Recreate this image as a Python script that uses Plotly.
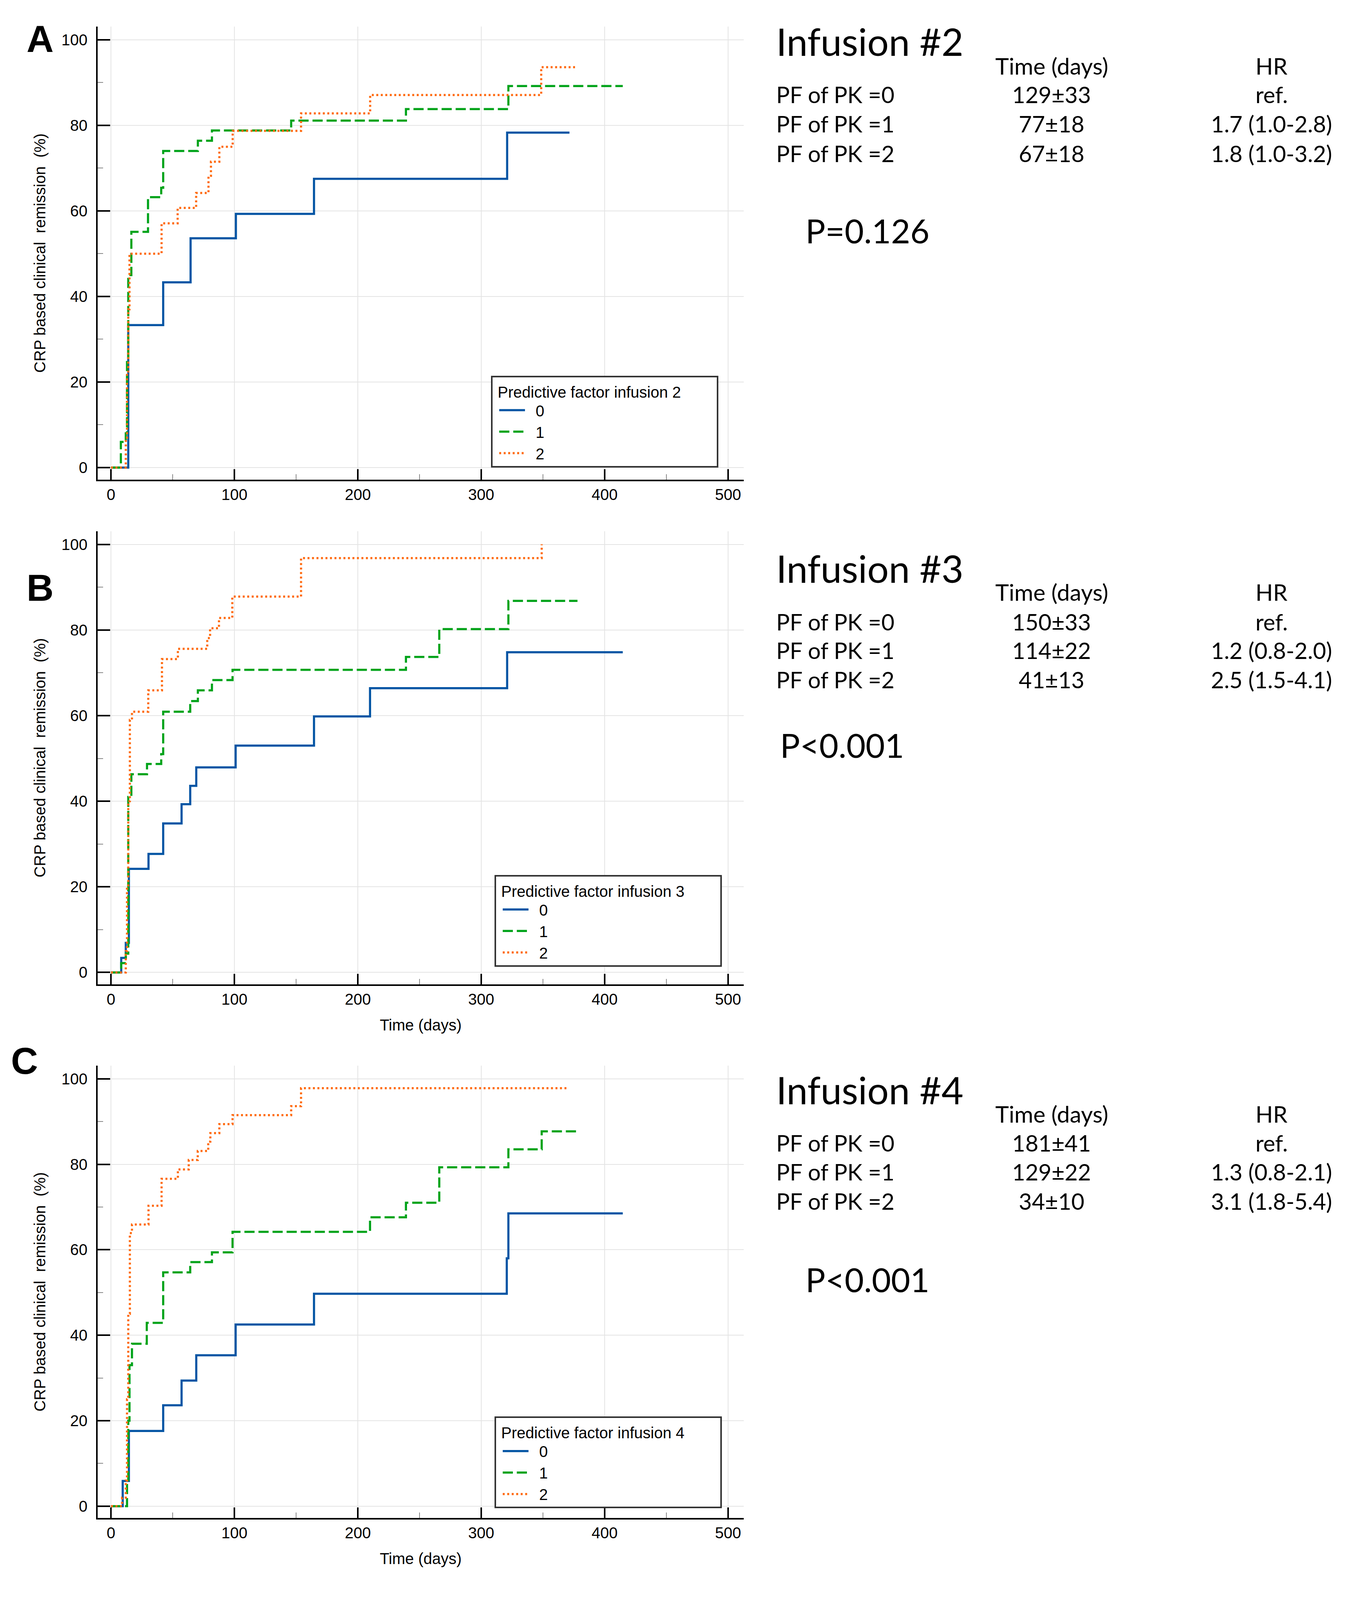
import plotly.graph_objects as go

W, H = 3474, 4281

# ---------------- data ----------------
# Panel A: Infusion #2
a0_t = [0, 14, 42.3, 64.5, 101.2, 164.5, 321, 371.5]
a0_v = [0, 33.3, 43.3, 53.6, 59.3, 67.5, 78.3, 78.3]
a1_t = [0, 8, 12, 13, 14, 16.5, 30, 40.7, 42.3, 70.4, 81.8, 146, 239, 322, 414.7]
a1_v = [0, 6.0, 8.0, 25, 45, 55.1, 63.2, 65.4, 74.0, 76.4, 78.8, 81.1, 83.8, 89.2, 89.2]
a2_t = [0, 12, 13, 14, 15, 41, 54, 69, 79, 81, 87.8, 98.6, 154, 210, 348.6, 376]
a2_v = [0, 7, 22, 37, 50.0, 57.1, 60.7, 64.2, 68.2, 71.5, 75.0, 78.7, 82.8, 87.1, 93.6, 93.6]

# Panel B: Infusion #3
b0_t = [0, 8.3, 12, 14.5, 30.4, 42.3, 57.2, 64.2, 69.1, 101, 164.5, 209.9, 321, 414.7]
b0_v = [0, 3.4, 6.9, 24.2, 27.7, 34.8, 39.3, 43.6, 47.9, 53.0, 59.8, 66.4, 74.8, 74.8]
b1_t = [0, 8.3, 12, 14, 16.5, 29.2, 40.7, 42.3, 64.2, 70.4, 81.8, 98.5, 239, 266, 322, 378]
b1_v = [0, 2.2, 4.4, 41, 46.3, 48.7, 51.0, 60.9, 63.4, 65.9, 68.3, 70.7, 73.7, 80.2, 86.8, 86.8]
b2_t = [0, 12, 13, 14, 15.3, 17, 30.2, 41.3, 54.2, 78, 80.3, 87.5, 98.3, 154, 349]
b2_v = [0, 5, 20, 40, 59, 60.9, 65.9, 73.2, 75.6, 78.1, 80.4, 82.8, 87.8, 96.8, 100]

# Panel C: Infusion #4
c0_t = [0, 9.5, 14.5, 42.3, 57.2, 69.1, 101, 164.5, 320.7, 322, 414.7]
c0_v = [0, 5.9, 17.6, 23.6, 29.4, 35.3, 42.5, 49.7, 58.0, 68.5, 68.5]
c1_t = [0, 13, 14, 15, 17, 29, 42.3, 64.2, 81.8, 98.5, 209.9, 239, 266, 322, 349, 378]
c1_v = [0, 5.4, 20, 33, 38.0, 42.9, 54.7, 57.1, 59.4, 64.2, 67.6, 71.0, 79.3, 83.5, 87.7, 87.7]
c2_t = [0, 9, 12, 13, 14, 15.3, 17, 30.4, 41, 54.2, 63, 70.3, 78.8, 80.5, 87.8, 98.5, 146, 154, 371]
c2_v = [0, 2, 6, 25, 45, 63.9, 65.9, 70.3, 76.6, 78.8, 81.0, 83.1, 85.3, 87.3, 89.4, 91.5, 93.6, 97.8, 97.8]

group_names = ["0", "1", "2"]
x_ticks = [0, 100, 200, 300, 400, 500]
y_ticks = [0, 20, 40, 60, 80, 100]

row_labels = ["PF of PK =0", "PF of PK =1", "PF of PK =2"]
a_time = ["129±33", "77±18", "67±18"]
a_hr = ["ref.", "1.7 (1.0-2.8)", "1.8 (1.0-3.2)"]
a_p = "P=0.126"
b_time = ["150±33", "114±22", "41±13"]
b_hr = ["ref.", "1.2 (0.8-2.0)", "2.5 (1.5-4.1)"]
b_p = "P<0.001"
c_time = ["181±41", "129±22", "34±10"]
c_hr = ["ref.", "1.3 (0.8-2.1)", "3.1 (1.8-5.4)"]
c_p = "P<0.001"

# ---------------- styling ----------------
COLORS = ["#0455a4", "#00a31a", "#ff6a0e"]
DASHES = ["solid", "26px,10px", "5px,6.5px"]
LW = 5.5
AX_FONT = dict(family="Liberation Sans, Arial", size=40, color="black")
TXT_FONT = "Lato"
NB = "\u00a0"


def px(x):
    return x / W


def py(y):
    return 1 - y / H


panels = [
    dict(series=[(a0_t, a0_v), (a1_t, a1_v), (a2_t, a2_v)], ydom=(71, 1283),
         legend_xy=(1257, 1005), legtitle="Predictive factor infusion 2",
         letter="A", letter_xy=(102, 104), xtitle=False,
         title="Infusion #2", title_y=110, head_y=176, rows_y=[252, 331, 410],
         time=a_time, hr=a_hr, p=a_p, p_xy=(2060, 617)),
    dict(series=[(b0_t, b0_v), (b1_t, b1_v), (b2_t, b2_v)], ydom=(1421, 2634),
         legend_xy=(1266, 2341), legtitle="Predictive factor infusion 3",
         letter="B", letter_xy=(102, 1572), xtitle=True,
         title="Infusion #3", title_y=1520, head_y=1584, rows_y=[1663, 1740, 1818],
         time=b_time, hr=b_hr, p=b_p, p_xy=(1995, 1993)),
    dict(series=[(c0_t, c0_v), (c1_t, c1_v), (c2_t, c2_v)], ydom=(2851, 4062),
         legend_xy=(1266, 3790), legtitle="Predictive factor infusion 4",
         letter="C", letter_xy=(62, 2838), xtitle=True,
         title="Infusion #4", title_y=2915, head_y=2980, rows_y=[3058, 3135, 3213],
         time=c_time, hr=c_hr, p=c_p, p_xy=(2060, 3423)),
]

fig = go.Figure()
annotations = []
layout = dict(
    width=W, height=H, margin=dict(l=0, r=0, t=0, b=0),
    paper_bgcolor="white", plot_bgcolor="white", showlegend=True,
)

for i, pn in enumerate(panels):
    k = "" if i == 0 else str(i + 1)
    legname = "legend" + k
    for j, (t, v) in enumerate(pn["series"]):
        fig.add_trace(go.Scatter(
            x=t, y=v, mode="lines", line_shape="hv", name=NB + NB + group_names[j],
            line=dict(color=COLORS[j], width=LW, dash=DASHES[j]),
            xaxis="x" + k, yaxis="y" + k, legend=legname,
        ))
    y0, y1 = pn["ydom"]
    layout["xaxis" + k] = dict(
        domain=[px(250), px(1904)], range=[-10.8, 512.7], anchor="y" + k,
        tickvals=x_ticks, showgrid=True, gridcolor="#e4e4e4", gridwidth=2,
        showline=True, linecolor="black", linewidth=4, zeroline=False,
        ticks="inside", ticklen=27, tickwidth=4, tickcolor="black",
        minor=dict(ticks="inside", ticklen=14, tickwidth=2, tickcolor="#888888",
                   tick0=0, dtick=50, showgrid=False),
        tickfont=AX_FONT,
        title=dict(text="Time (days)" if pn["xtitle"] else "", font=AX_FONT, standoff=32),
    )
    layout["yaxis" + k] = dict(
        domain=[py(y1), py(y0)], range=[-2.8, 103.1], anchor="x" + k,
        tickvals=y_ticks, showgrid=True, gridcolor="#e4e4e4", gridwidth=2,
        showline=True, linecolor="black", linewidth=4, zeroline=False,
        ticks="inside", ticklen=32, tickwidth=4, tickcolor="black",
        minor=dict(ticks="inside", ticklen=14, tickwidth=2, tickcolor="#888888",
                   tick0=0, dtick=10, showgrid=False),
        tickfont=AX_FONT, ticklabelstandoff=14,
        title=dict(text="CRP based clinical" + NB + NB + "remission" + NB + NB + "(%)",
                   font=AX_FONT, standoff=29),
    )
    lx, ly = pn["legend_xy"]
    layout[legname] = dict(
        x=px(lx), y=py(ly), xanchor="left", yanchor="top",
        bordercolor="#333333", borderwidth=4, bgcolor="white",
        font=AX_FONT,
        title=dict(text=NB + pn["legtitle"] + NB * 8, font=AX_FONT),
        itemwidth=66, tracegroupgap=0, indentation=12,
    )
    # panel letter
    annotations.append(dict(
        text="<b>%s</b>" % pn["letter"], x=px(pn["letter_xy"][0]), y=py(pn["letter_xy"][1]),
        xref="paper", yref="paper", xanchor="center", yanchor="middle", showarrow=False,
        font=dict(family="Liberation Sans, Arial", size=96, color="black"),
    ))
    # right side table
    annotations.append(dict(
        text=pn["title"], x=px(1985), y=py(pn["title_y"]), xref="paper", yref="paper",
        xanchor="left", yanchor="middle", showarrow=False,
        font=dict(family=TXT_FONT, size=97, color="black"),
    ))
    for txt, cx in (("Time (days)", 2692), ("HR", 3255)):
        annotations.append(dict(
            text=txt, x=px(cx), y=py(pn["head_y"]), xref="paper", yref="paper",
            xanchor="center", yanchor="middle", showarrow=False,
            font=dict(family=TXT_FONT, size=59, color="black"),
        ))
    for r in range(3):
        yy = py(pn["rows_y"][r])
        annotations.append(dict(
            text=row_labels[r], x=px(1985), y=yy, xref="paper", yref="paper",
            xanchor="left", yanchor="middle", showarrow=False,
            font=dict(family=TXT_FONT, size=58, color="black"),
        ))
        annotations.append(dict(
            text=pn["time"][r], x=px(2692), y=yy, xref="paper", yref="paper",
            xanchor="center", yanchor="middle", showarrow=False,
            font=dict(family=TXT_FONT, size=58, color="black"),
        ))
        annotations.append(dict(
            text=pn["hr"][r], x=px(3255), y=yy, xref="paper", yref="paper",
            xanchor="center", yanchor="middle", showarrow=False,
            font=dict(family=TXT_FONT, size=58, color="black"),
        ))
    annotations.append(dict(
        text=pn["p"], x=px(pn["p_xy"][0]), y=py(pn["p_xy"][1]), xref="paper", yref="paper",
        xanchor="left", yanchor="middle", showarrow=False,
        font=dict(family=TXT_FONT, size=85, color="black"),
    ))

layout["annotations"] = annotations
fig.update_layout(**layout)

post = (
    "document.documentElement.style.overflow='hidden';"
    "document.body.style.margin='0px';"
    "document.body.style.overflow='hidden';"
    "var gd=document.getElementById('{plot_id}');"
    "Plotly.relayout(gd,{width:window.innerWidth,height:window.innerHeight});"
)
fig.write_html("out.html", post_script=post, config={"displayModeBar": False})
